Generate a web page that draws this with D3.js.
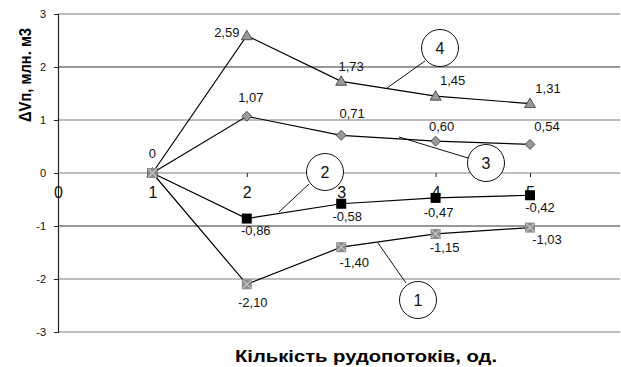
<!DOCTYPE html>
<html><head><meta charset="utf-8">
<script src="https://cdn.jsdelivr.net/npm/d3@7"></script>
<style>body{margin:0;background:#fff}svg{display:block}text{font-family:"Liberation Sans",Arial,sans-serif}</style>
</head><body><svg id="c" width="621" height="367"></svg>
<script>
const xValues = [1, 2, 3, 4, 5];
const xTicks = [0, 1, 2, 3, 4, 5];
const yTicks = [3, 2, 1, 0, -1, -2, -3];
const series1 = [0, -2.10, -1.40, -1.15, -1.03];
const series2 = [0, -0.86, -0.58, -0.47, -0.42];
const series3 = [0, 1.07, 0.71, 0.60, 0.54];
const series4 = [0, 2.59, 1.73, 1.45, 1.31];
const labels1 = ["", "-2,10", "-1,40", "-1,15", "-1,03"];
const labels2 = ["", "-0,86", "-0,58", "-0,47", "-0,42"];
const labels3 = ["", "1,07", "0,71", "0,60", "0,54"];
const labels4 = ["0", "2,59", "1,73", "1,45", "1,31"];
const xTitle = "Кількість рудопотоків, од.";
const yTitle = "ΔVп, млн. м3";

// layout (label offsets in px, relative to point; y is baseline)
const off1 = [[0,0],[6,23],[13,20],[9,18],[17,16]];
const off2 = [[0,0],[9,16],[6,17],[3,19],[10,17]];
const off3 = [[0,0],[4,-14],[11,-17],[6,-10],[17,-13]];
const off4 = [[0,-15],[-20,1],[10,-10],[17,-11],[18,-11]];

const svg = d3.select("#c");
const L = 58, R = 620, T = 14, B = 332;
const x = d3.scaleLinear().domain([0, 6]).range([L, L + 94.4 * 6]);
const y = d3.scaleLinear().domain([-3, 3]).range([B, T]);

// gridlines
svg.append("g").selectAll("line").data(yTicks).join("line")
  .attr("x1", L).attr("x2", R).attr("y1", d => y(d)).attr("y2", d => y(d))
  .attr("stroke", d => (d === -1 || d === 2) ? "#333" : "#7f7f7f").attr("stroke-width", 1.2);

// y axis
const ya = svg.append("g").attr("transform", `translate(${L},0)`)
  .call(d3.axisLeft(y).tickValues(yTicks).tickSize(4).tickFormat(d => String(d)));
ya.select(".domain").attr("stroke", "#222").attr("stroke-width", 1.2);
ya.selectAll("line").attr("stroke", "#222");
ya.selectAll("text").attr("font-size", 11).attr("fill", "#111").attr("x", -12);

// x axis at y=0
const xa = svg.append("g").attr("transform", `translate(0,${y(0)})`)
  .call(d3.axisBottom(x).tickValues(xTicks).tickSize(4).tickFormat(d => String(d)));
xa.select(".domain").remove();
xa.selectAll("line").attr("stroke", "#222");
xa.selectAll("text").attr("font-size", 16).attr("fill", "#111").attr("y", 25).attr("dy", 0);

// titles
svg.append("text").attr("x", 366).attr("y", 362).attr("text-anchor", "middle")
  .attr("font-size", 17).attr("font-weight", "bold")
  .attr("textLength", 262).attr("lengthAdjust", "spacingAndGlyphs").text(xTitle);
svg.append("text").attr("transform", "translate(31,122) rotate(-90)")
  .attr("font-size", 17).attr("font-weight", "bold")
  .attr("textLength", 94).attr("lengthAdjust", "spacingAndGlyphs").text(yTitle);

// callouts
const callouts = [
  {n: "4", cx: 440, cy: 48, lx1: 425, ly1: 61, lx2: 387, ly2: 88},
  {n: "3", cx: 486, cy: 163, lx1: 468, ly1: 158, lx2: 399, ly2: 137},
  {n: "2", cx: 325, cy: 172, lx1: 309, ly1: 184, lx2: 279, ly2: 212},
  {n: "1", cx: 418, cy: 300, lx1: 406, ly1: 283, lx2: 378, ly2: 243}
];
const cg = svg.append("g");
callouts.forEach(c => {
  cg.append("line").attr("x1", c.lx1).attr("y1", c.ly1).attr("x2", c.lx2).attr("y2", c.ly2)
    .attr("stroke", "#111").attr("stroke-width", 1);
  cg.append("circle").attr("cx", c.cx).attr("cy", c.cy).attr("r", 18.5)
    .attr("fill", "#fff").attr("stroke", "#111").attr("stroke-width", 1);
  cg.append("text").attr("x", c.cx).attr("y", c.cy + 5.5).attr("text-anchor", "middle")
    .attr("font-size", 16).attr("fill", "#111").text(c.n);
});

const line = d3.line().x((d, i) => x(xValues[i])).y(d => y(d));
const all = [
  {data: series4, labels: labels4, off: off4, m: "tri"},
  {data: series3, labels: labels3, off: off3, m: "dia"},
  {data: series2, labels: labels2, off: off2, m: "sq"},
  {data: series1, labels: labels1, off: off1, m: "x"}
];
all.forEach(s => {
  svg.append("path").datum(s.data).attr("d", line).attr("fill", "none")
    .attr("stroke", "#000").attr("stroke-width", 1.2);
});
all.forEach(s => {
  const g = svg.append("g");
  s.data.forEach((v, i) => {
    const px = x(xValues[i]), py = y(v);
    if (s.m === "tri") {
      g.append("path").attr("d", `M${px},${py-5.5}L${px+5.5},${py+4}L${px-5.5},${py+4}Z`)
        .attr("fill", "#999").attr("stroke", "#333").attr("stroke-width", 0.8);
    } else if (s.m === "dia") {
      g.append("path").attr("d", `M${px},${py-5}L${px+5},${py}L${px},${py+5}L${px-5},${py}Z`)
        .attr("fill", "#999").attr("stroke", "#333").attr("stroke-width", 0.8);
    } else if (s.m === "sq") {
      g.append("rect").attr("x", px-5).attr("y", py-5).attr("width", 10).attr("height", 10).attr("fill", "#000");
    } else {
      g.append("rect").attr("x", px-5).attr("y", py-5).attr("width", 10).attr("height", 10).attr("fill", "#8c8c8c");
      g.append("path").attr("d", `M${px-4},${py-4}L${px+4},${py+4}M${px+4},${py-4}L${px-4},${py+4}`)
        .attr("stroke", "#c8c8c8").attr("stroke-width", 1.2);
    }
    if (s.labels[i]) {
      g.append("text").attr("x", px + s.off[i][0]).attr("y", py + s.off[i][1]).attr("text-anchor", "middle")
        .attr("font-size", 13).attr("fill", "#111").text(s.labels[i]);
    }
  });
});
</script></body></html>
